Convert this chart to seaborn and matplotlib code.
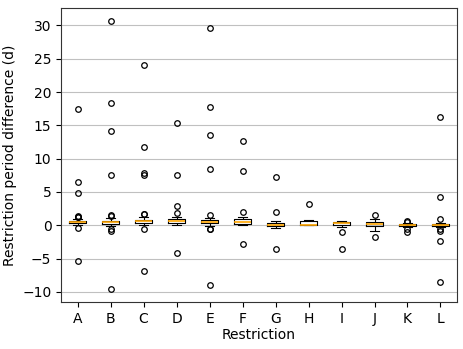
import pandas as pd
import seaborn as sns
import matplotlib.pyplot as plt

# categories
restrictions = ['A', 'B', 'C', 'D', 'E', 'F', 'G', 'H', 'I', 'J', 'K', 'L']

# box summary (whisker low, q1, median, q3, whisker high)
whisker_lo = [0.0, -0.1, 0.1, 0.0, -0.1, 0.0, -0.4, 0.0, -0.2, -0.8, -0.2, -0.3]
q1 = [0.3, 0.25, 0.35, 0.35, 0.3, 0.2, -0.15, 0.0, 0.1, -0.1, -0.05, -0.1]
median = [0.45, 0.45, 0.6, 0.6, 0.5, 0.55, 0.05, 0.0, 0.4, 0.2, 0.05, 0.05]
q3 = [0.65, 0.7, 0.85, 0.9, 0.8, 0.9, 0.3, 0.6, 0.55, 0.5, 0.15, 0.2]
whisker_hi = [1.0, 1.1, 1.2, 1.2, 1.1, 1.2, 0.7, 0.8, 0.6, 0.9, 0.3, 0.4]

# outliers
fliers = [
    [17.4, 6.5, 4.9, 1.4, 1.3, 1.2, -0.4, -5.3],
    [30.6, 18.3, 14.1, 7.6, 1.6, 1.45, -0.5, -0.8, -9.5],
    [24.1, 11.7, 7.8, 7.5, 1.7, 1.65, -0.5, -6.8],
    [15.3, 7.6, 2.9, 1.9, -4.1],
    [29.6, 17.8, 13.6, 8.5, 1.6, -0.5, -0.6, -9.0],
    [12.7, 8.2, 2.0, -2.8],
    [7.3, 2.0, -3.5],
    [3.2],
    [-1.0, -3.6],
    [1.5, -1.8],
    [0.7, 0.55, -0.5, -1.0],
    [16.2, 4.3, 0.9, -0.6, -0.8, -2.3, -8.5],
]

# build a sample per restriction that gives the same box
rows = []
for i, r in enumerate(restrictions):
    vals = ([whisker_lo[i]] + [q1[i]] * 8 + [median[i]] * 6
            + [q3[i]] * 8 + [whisker_hi[i]] + fliers[i])
    for v in vals:
        rows.append({'Restriction': r, 'diff': v})
df = pd.DataFrame(rows)

fig, ax = plt.subplots(figsize=(4.63, 3.49), dpi=100)

sns.boxplot(
    data=df,
    x='Restriction',
    y='diff',
    order=restrictions,
    width=0.5,
    fill=False,
    color='black',
    linewidth=0.8,
    medianprops=dict(color='orange', linewidth=1.2),
    flierprops=dict(marker='o', markersize=4, markerfacecolor='none',
                    markeredgecolor='black', markeredgewidth=0.9),
    ax=ax,
)

ax.yaxis.grid(True, color='#c0c0c0', linewidth=0.8)
ax.set_axisbelow(True)
ax.set_ylabel('Restriction period difference (d)', fontsize=10)
ax.set_xlabel('Restriction', fontsize=10, labelpad=2)
ax.tick_params(labelsize=10)
ax.set_yticks([-10, -5, 0, 5, 10, 15, 20, 25, 30])
for s in ax.spines.values():
    s.set_color('#333333')

plt.subplots_adjust(left=0.132, right=0.987, top=0.977, bottom=0.135)
plt.savefig('out.png', dpi=100)
